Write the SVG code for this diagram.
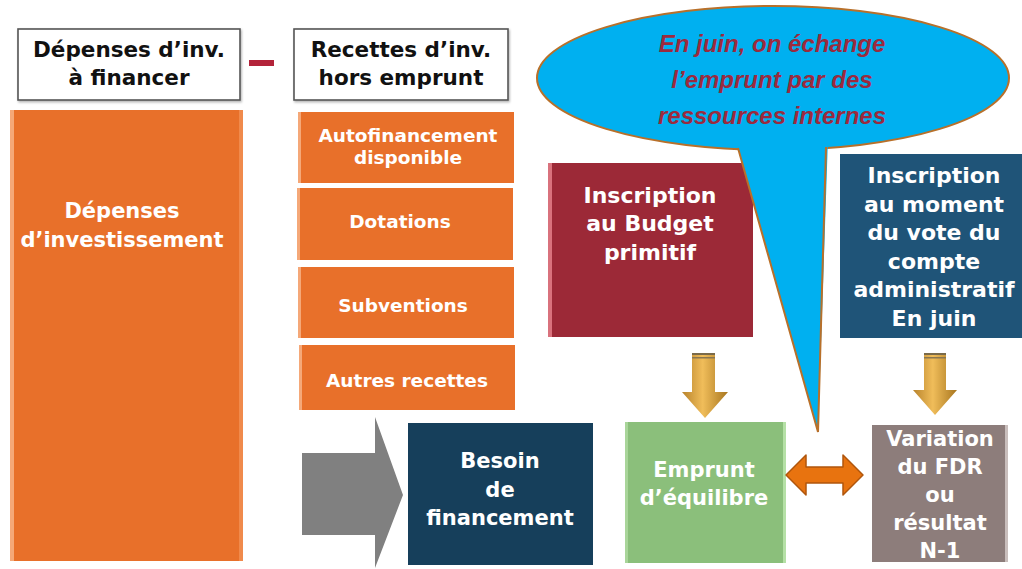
<svg xmlns="http://www.w3.org/2000/svg" width="1022" height="569" viewBox="0 0 1022 569">
<defs>
<style>
.t{font-family:"DejaVu Sans",Verdana,sans-serif;font-weight:bold;text-anchor:middle}
.w{fill:#ffffff}
.k{fill:#111111}
.title{fill:#ffffff;stroke:#555555;stroke-width:1.6}
.org{fill:#e8702a}
.bev{fill:#f5a878}
.bub{font-family:"Liberation Sans",Arial,sans-serif;font-weight:bold;font-style:italic;font-size:24px;fill:#9b2a3e;text-anchor:middle}
</style>
<linearGradient id="gold" x1="0" y1="0" x2="1" y2="0">
<stop offset="0" stop-color="#b8832c"/>
<stop offset="0.45" stop-color="#f0bd5a"/>
<stop offset="1" stop-color="#a8761f"/>
</linearGradient>
<filter id="sh" x="-5%" y="-5%" width="115%" height="115%">
<feDropShadow dx="1" dy="1.5" stdDeviation="1" flood-color="#000" flood-opacity="0.3"/>
</filter>
</defs>
<rect width="1022" height="569" fill="#ffffff"/>

<g id="title-depenses">
<rect class="title" x="18" y="29" width="222" height="71" filter="url(#sh)"/>
<text class="t k" font-size="21.5" x="129" y="57">Dépenses d’inv.</text>
<text class="t k" font-size="21.5" x="129" y="85">à financer</text>
</g>
<g id="minus"><rect x="249" y="60" width="25" height="6" fill="#b3233a"/></g>
<g id="title-recettes">
<rect class="title" x="294" y="29" width="214" height="71" filter="url(#sh)"/>
<text class="t k" font-size="21.5" x="401" y="57">Recettes d’inv.</text>
<text class="t k" font-size="21.5" x="401" y="85">hors emprunt</text>
</g>

<g id="depenses-invest">
<rect class="org" x="10" y="110" width="233" height="451"/>
<rect class="bev" x="10" y="110" width="4" height="451"/>
<rect fill="#f08a4c" x="239" y="110" width="4" height="451"/>
<text class="t w" font-size="21" x="122" y="218">Dépenses</text>
<text class="t w" font-size="21" x="122" y="247">d’investissement</text>
</g>

<g id="autofinancement">
<rect class="org" x="298" y="112" width="216" height="71"/>
<rect class="bev" x="298" y="112" width="3" height="71"/>
<text class="t w" font-size="18.5" x="408" y="142">Autofinancement</text>
<text class="t w" font-size="18.5" x="408" y="164">disponible</text>
</g>
<g id="dotations">
<rect class="org" x="297" y="188" width="216" height="72"/>
<rect class="bev" x="297" y="188" width="3" height="72"/>
<text class="t w" font-size="18.5" x="400" y="228">Dotations</text>
</g>
<g id="subventions">
<rect class="org" x="298" y="267" width="216" height="71"/>
<rect class="bev" x="298" y="267" width="3" height="71"/>
<text class="t w" font-size="18.5" x="403" y="312">Subventions</text>
</g>
<g id="autres-recettes">
<rect class="org" x="299" y="345" width="216" height="65"/>
<rect class="bev" x="299" y="345" width="3" height="65"/>
<text class="t w" font-size="18.5" x="407" y="387">Autres recettes</text>
</g>

<g id="besoin">
<rect x="408" y="423" width="185" height="142" fill="#163f5b"/>
<text class="t w" font-size="21" x="500" y="468">Besoin</text>
<text class="t w" font-size="21" x="500" y="497">de</text>
<text class="t w" font-size="21" x="500" y="525">financement</text>
</g>

<g id="emprunt">
<rect x="625" y="422" width="161" height="141" fill="#8bbf7b"/>
<rect x="625" y="422" width="3" height="141" fill="#a9d59a"/>
<rect x="783" y="422" width="3" height="141" fill="#b5e0a6"/>
<text class="t w" font-size="21" x="704" y="477">Emprunt</text>
<text class="t w" font-size="21" x="704" y="505">d’équilibre</text>
</g>

<g id="variation">
<rect x="872" y="425" width="136" height="137" fill="#8d7d7b"/>
<rect x="1005" y="425" width="3" height="137" fill="#c9bebc"/>
<text class="t w" font-size="21" x="940" y="446">Variation</text>
<text class="t w" font-size="21" x="940" y="474">du FDR</text>
<text class="t w" font-size="21" x="940" y="502">ou</text>
<text class="t w" font-size="21" x="940" y="530">résultat</text>
<text class="t w" font-size="21" x="940" y="558">N-1</text>
</g>

<g id="inscription-bp">
<rect x="548" y="163" width="205" height="174" fill="#9c2937"/>
<rect x="548" y="163" width="4" height="174" fill="#d9727d"/>
<text class="t w" font-size="22" x="650" y="203">Inscription</text>
<text class="t w" font-size="22" x="650" y="231">au Budget</text>
<text class="t w" font-size="22" x="650" y="260">primitif</text>
</g>

<g id="inscription-ca">
<rect x="840" y="154" width="182" height="184" fill="#1f5478"/>
<text class="t w" font-size="22" x="934" y="183">Inscription</text>
<text class="t w" font-size="22" x="934" y="212">au moment</text>
<text class="t w" font-size="22" x="934" y="240">du vote du</text>
<text class="t w" font-size="22" x="934" y="269">compte</text>
<text class="t w" font-size="22" x="934" y="297">administratif</text>
<text class="t w" font-size="22" x="934" y="326">En juin</text>
</g>

<g id="bulle">
<ellipse cx="773" cy="78" rx="236" ry="72" fill="#00b0f0" stroke="#b8702a" stroke-width="2"/>
<polygon points="735,138 818,432 828,138" fill="#00b0f0"/>
<path d="M738,148 L818,432 L826,147" fill="none" stroke="#b8702a" stroke-width="2" stroke-linejoin="miter"/>
<text class="bub" x="772" y="52">En juin, on échange</text>
<text class="bub" x="772" y="88">l’emprunt par des</text>
<text class="bub" x="772" y="124">ressources internes</text>
</g>

<g id="connecteurs">
<polygon points="302,453 375,453 375,417 403,495 375,568 375,535 302,535" fill="#808080"/>
<g>
<polygon points="692,353 715,353 715,392 728,392 705,418 682,392 692,392" fill="url(#gold)"/>
<rect x="692" y="353" width="23" height="2" fill="#7a6a4a"/>
<rect x="692" y="357" width="23" height="1.5" fill="#8a7650"/>
</g>
<g>
<polygon points="924,353 946,353 946,390 957,390 935,415 913,390 924,390" fill="url(#gold)"/>
<rect x="924" y="353" width="22" height="2" fill="#7a6a4a"/>
<rect x="924" y="357" width="22" height="1.5" fill="#8a7650"/>
</g>
<polygon points="786,475 806,455 806,467 843,467 843,455 863,475 843,495 843,483 806,483 806,495" fill="#e8730f" stroke="#b0560c" stroke-width="1.5" stroke-linejoin="round"/>
</g>
</svg>
